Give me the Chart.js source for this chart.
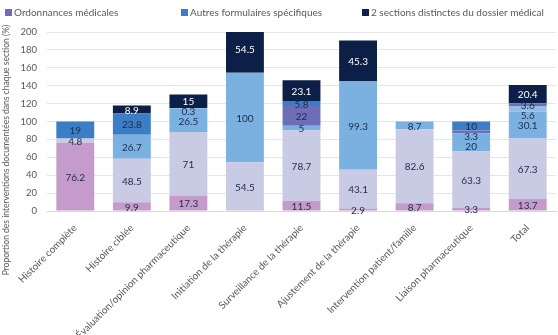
<!DOCTYPE html>
<html>
<head>
<meta charset="utf-8">
<script src="https://cdn.jsdelivr.net/npm/chart.js@4/dist/chart.umd.min.js"></script>
<style>
  html, body { margin: 0; padding: 0; background: #fff; }
  #wrap { width: 558px; height: 335px; position: relative; }
</style>
</head>
<body>
<div id="wrap"><canvas id="docChart"></canvas></div>
<script>
// categories (x axis)
const categories = [
  'Histoire complète', 'Histoire ciblée', 'Évaluation/opinion pharmaceutique',
  'Initiation de la thérapie', 'Surveillance de la thérapie', 'Ajustement de la thérapie',
  'Intervention patient/famille', 'Liaison pharmaceutique', 'Total'
];

// series values, bottom of the stack first
const seriesA = [76.2, 9.9, 17.3, 0, 11.5, 2.9, 8.7, 3.3, 13.7];
const seriesB = [4.8, 48.5, 71, 54.5, 78.7, 43.1, 82.6, 63.3, 67.3];
const seriesC = [0, 26.7, 26.5, 100, 5, 99.3, 8.7, 20, 30.1];
const seriesD = [0, 0, 0.3, 0, 0, 0, 0, 0, 5.6];
const ordonnances = [0, 0, 0, 0, 22, 0, 0, 3.3, 3.6];
const autresFormulaires = [19, 23.8, 0, 0, 5.8, 0, 0, 10, 0];
const deuxSections = [0, 8.9, 15, 54.5, 23.1, 45.3, 0, 0, 20.4];

const yTicks = [0, 20, 40, 60, 80, 100, 120, 140, 160, 180, 200];
const yTitle = 'Proportion des interventions documentées dans chaque section (%)';

// only these entries are visible in the legend row
const legendShown = ['Ordonnances médicales', 'Autres formulaires spécifiques', '2 sections distinctes du dossier médical'];

const FONT = 'Lato, "Open Sans", sans-serif';
const GREY = '#595959';

// value labels in the middle of each segment, pushed down a bit when they would collide
const segmentLabels = {
  id: 'segmentLabels',
  afterDatasetsDraw(chart) {
    const ctx = chart.ctx;
    const sets = chart.data.datasets;
    ctx.save();
    ctx.font = '10px ' + FONT;
    ctx.textAlign = 'center';
    ctx.textBaseline = 'middle';
    chart.data.labels.forEach((_, j) => {
      let lastY = -Infinity;
      for (let i = sets.length - 1; i >= 0; i--) {
        const v = sets[i].data[j];
        if (!v) continue;
        const bar = chart.getDatasetMeta(i).data[j];
        let y = Math.max((bar.y + bar.base) / 2 + 1, chart.chartArea.top + 6);
        if (y < lastY + 10) y = lastY + 10;
        lastY = y;
        ctx.fillStyle = sets[i].labelColor;
        ctx.fillText(String(v), bar.x, y);
      }
    });
    ctx.restore();
  }
};

// rotated axis title + one-row legend, laid out like the original
const frameText = {
  id: 'frameText',
  afterDraw(chart) {
    const ctx = chart.ctx;
    ctx.save();
    ctx.translate(6, 150);
    ctx.rotate(-Math.PI / 2);
    ctx.font = '8.5px ' + FONT;
    ctx.fillStyle = GREY;
    ctx.textAlign = 'center';
    ctx.textBaseline = 'middle';
    ctx.fillText(yTitle, 0, 0);
    ctx.restore();

    // legend row: entries spread across the top, last one runs off the edge
    ctx.save();
    ctx.font = '10px ' + FONT;
    ctx.textBaseline = 'middle';
    const slots = [5, 181, 362];
    legendShown.forEach((name, k) => {
      const ds = chart.data.datasets.find(d => d.label === name);
      ctx.fillStyle = ds.backgroundColor;
      ctx.fillRect(slots[k], 9, 7, 7);
      ctx.fillStyle = GREY;
      ctx.fillText(name, slots[k] + 9, 12.5);
    });
    ctx.restore();
  }
};

function makeSet(label, data, color, labelColor) {
  return {
    label: label,
    data: data,
    backgroundColor: color,
    borderWidth: 0,
    labelColor: labelColor,
    categoryPercentage: 0.67,
    barPercentage: 1
  };
}

const dark = '#1E2A4A';

new Chart(document.getElementById('docChart'), {
  type: 'bar',
  data: {
    labels: categories,
    datasets: [
      makeSet('Dossier pharmacologique', seriesA, '#C49BCB', dark),
      makeSet('Notes d\'évolution', seriesB, '#C9CAE4', dark),
      makeSet('Feuille de consultation', seriesC, '#7BB1E1', dark),
      makeSet('Autre section', seriesD, '#8EBDE7', dark),
      makeSet('Ordonnances médicales', ordonnances, '#6E6DB7', dark),
      makeSet('Autres formulaires spécifiques', autresFormulaires, '#3B7EC5', dark),
      makeSet('2 sections distinctes du dossier médical', deuxSections, '#0C1F46', '#FFFFFF')
    ]
  },
  options: {
    responsive: true,
    maintainAspectRatio: false,
    animation: false,
    layout: { padding: { left: 12, right: 2, top: 32, bottom: 0 } },
    plugins: {
      legend: { display: false },
      tooltip: { enabled: false }
    },
    scales: {
      x: {
        stacked: true,
        grid: { display: false },
        border: { color: '#D9D9D9' },
        ticks: { color: GREY, font: { family: FONT, size: 10 }, minRotation: 45, maxRotation: 45, autoSkip: false },
        afterFit: scale => { scale.height = 124; }
      },
      y: {
        stacked: true,
        min: 0, max: 200,
        afterBuildTicks: scale => { scale.ticks = yTicks.map(v => ({ value: v })); },
        grid: { color: '#E6E6E6', drawTicks: false },
        border: { display: false },
        ticks: { color: GREY, font: { family: FONT, size: 9.5 }, padding: 10 },
        afterFit: scale => { scale.width = 35; }
      }
    }
  },
  plugins: [segmentLabels, frameText]
});
</script>
</body>
</html>
